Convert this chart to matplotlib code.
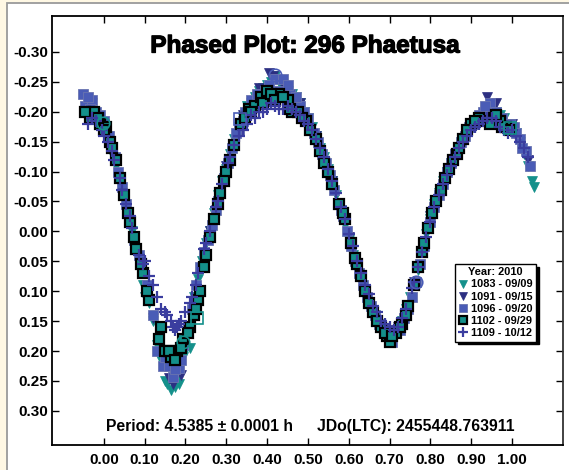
import matplotlib
matplotlib.use("Agg")
import matplotlib.pyplot as plt
import matplotlib.patheffects as pe
from matplotlib.patches import Rectangle

plt.rcParams['font.family'] = ['Liberation Sans', 'DejaVu Sans']
plt.rcParams['font.weight'] = 'bold'

# ---------------- data ----------------
title = "Phased Plot: 296 Phaetusa"
legend_title = "Year: 2010"
period_text = "Period: 4.5385 \u00b1 0.0001 h"
epoch_text = "JDo(LTC): 2455448.763911"

labels = ["1083 - 09/09", "1091 - 09/15", "1096 - 09/20", "1102 - 09/29", "1109 - 10/12"]

ph_1083 = [-0.04, -0.02, 0.01, 0.03, 0.05, 0.07, 0.085, 0.095, 0.11, 0.12, 0.14, 0.15, 0.165, 0.175,
           0.185, 0.20, 0.21, 0.23, 0.25, 0.27, 0.29, 0.31, 0.33, 0.35, 0.37, 0.39, 0.41, 0.43, 0.45,
           0.47, 0.49, 0.51, 0.53, 0.55, 0.57, 0.59, 0.61, 0.63, 0.65, 0.67, 0.69, 0.71, 0.73, 0.75,
           0.77, 0.79, 0.81, 0.83, 0.85, 0.87, 0.89, 0.91, 0.93, 0.95, 0.97, 0.99, 1.01, 1.03, 1.05, 1.055,
           -0.03, 0.00, 0.02, 0.04, 0.06, 0.10, 0.13, 0.155, 0.18, 0.195, 0.22, 0.24, 0.26, 0.28, 0.30,
           0.32, 0.34, 0.36, 0.38, 0.40, 0.42, 0.44, 0.46, 0.48, 0.50, 0.52, 0.54, 0.56, 0.58, 0.60,
           0.62, 0.64, 0.66, 0.68, 0.70, 0.72, 0.74, 0.76, 0.78, 0.80, 0.82, 0.84, 0.86, 0.88, 0.90,
           0.92, 0.94, 0.96, 0.98, 1.00, 1.02, 1.04]
mag_1083 = [-0.205, -0.195, -0.16, -0.11, -0.055, 0.0, 0.045, 0.09, 0.12, 0.15, 0.215, 0.25, 0.265, 0.26,
            0.255, 0.20, 0.195, 0.08, 0.02, -0.03, -0.085, -0.13, -0.175, -0.21, -0.225, -0.24, -0.25, -0.25, -0.235,
            -0.225, -0.20, -0.175, -0.14, -0.105, -0.06, -0.01, 0.04, 0.085, 0.12, 0.15, 0.17, 0.175, 0.15, 0.11,
            0.065, 0.005, -0.045, -0.085, -0.115, -0.14, -0.165, -0.18, -0.195, -0.205, -0.195, -0.18, -0.165, -0.13, -0.085, -0.075,
            -0.20, -0.175, -0.13, -0.085, -0.03, 0.11, 0.19, 0.255, 0.25, 0.21, 0.11, 0.05, 0.0, -0.06, -0.105,
            -0.155, -0.19, -0.215, -0.235, -0.245, -0.26, -0.24, -0.23, -0.215, -0.19, -0.16, -0.125, -0.085, -0.035, 0.015,
            0.06, 0.10, 0.135, 0.16, 0.175, 0.165, 0.13, 0.09, 0.035, -0.02, -0.065, -0.10, -0.13, -0.155, -0.175,
            -0.19, -0.20, -0.20, -0.19, -0.175, -0.15, -0.11]

ph_1091 = [-0.03, 0.00, 0.04, 0.08, 0.12, 0.16, 0.17, 0.19, 0.22, 0.26, 0.30, 0.34, 0.38, 0.405, 0.415,
           0.44, 0.48, 0.52, 0.56, 0.60, 0.64, 0.68, 0.70, 0.72, 0.76, 0.80, 0.84, 0.88, 0.92, 0.94, 0.96,
           1.00, 1.04]
mag_1091 = [-0.215, -0.18, -0.085, 0.03, 0.145, 0.245, 0.255, 0.24, 0.12, 0.0, -0.11, -0.195, -0.24, -0.265, -0.26,
            -0.245, -0.215, -0.16, -0.085, 0.01, 0.10, 0.16, 0.165, 0.16, 0.085, -0.025, -0.10, -0.155, -0.19, -0.225, -0.215,
            -0.18, -0.12]

ph_1096 = [-0.05, -0.045, -0.03, -0.02, -0.01, 0.005, 0.02, 0.035, 0.045, 0.06, 0.075, 0.09, 0.105, 0.13,
           0.145, 0.16, 0.17, 0.185, 0.195, 0.215, 0.235, 0.245, 0.265, 0.28, 0.295, 0.315, 0.33, 0.345,
           0.36, 0.375, 0.395, 0.42, 0.44, 0.455, 0.465, 0.48, 0.50, 0.515, 0.535, 0.545, 0.565, 0.58,
           0.595, 0.615, 0.635, 0.655, 0.675, 0.69, 0.705, 0.725, 0.745, 0.765, 0.785, 0.80, 0.82, 0.84,
           0.86, 0.875, 0.895, 0.915, 0.93, 0.945, 0.96, 0.975, 0.99, 1.005, 1.02, 1.035, 1.045,
           -0.04, -0.035, 0.00, 0.012, 0.028, 0.055, 0.085, 0.12, 0.15, 0.175, 0.19, 0.205, 0.225, 0.255,
           0.275, 0.305, 0.325, 0.34, 0.355, 0.385, 0.405, 0.43, 0.45, 0.47, 0.49, 0.525, 0.555, 0.585,
           0.605, 0.625, 0.645, 0.665, 0.695, 0.715, 0.735, 0.755, 0.775, 0.81, 0.83, 0.85, 0.885, 0.905,
           0.92, 0.935, 0.95, 0.965, 0.98, 0.995, 1.01, 1.025]
mag_1096 = [-0.23, -0.21, -0.22, -0.20, -0.195, -0.17, -0.14, -0.10, -0.075, -0.03, 0.015, 0.055, 0.09, 0.20,
            0.225, 0.225, 0.243, 0.228, 0.19, 0.13, 0.06, 0.035, -0.01, -0.05, -0.09, -0.14, -0.17, -0.20,
            -0.22, -0.23, -0.235, -0.255, -0.255, -0.23, -0.21, -0.21, -0.19, -0.165, -0.13, -0.115, -0.07, -0.035,
            0.0, 0.05, 0.09, 0.125, 0.155, 0.17, 0.185, 0.165, 0.13, 0.085, 0.025, -0.015, -0.06, -0.10,
            -0.13, -0.15, -0.175, -0.185, -0.20, -0.215, -0.20, -0.19, -0.17, -0.175, -0.155, -0.135, -0.11,
            -0.225, -0.205, -0.185, -0.16, -0.125, -0.045, 0.04, 0.14, 0.21, 0.23, 0.215, 0.16, 0.09, 0.015,
            -0.035, -0.115, -0.165, -0.185, -0.205, -0.225, -0.245, -0.235, -0.245, -0.225, -0.20, -0.15, -0.095, -0.025,
            0.025, 0.07, 0.11, 0.14, 0.175, 0.17, 0.145, 0.11, 0.055, -0.04, -0.08, -0.115, -0.16, -0.18,
            -0.195, -0.21, -0.19, -0.185, -0.18, -0.18, -0.165, -0.14]

ph_1102 = [-0.035, -0.025, -0.01, 0.005, 0.015, 0.03, 0.05, 0.065, 0.08, 0.095, 0.11, 0.135, 0.15, 0.165,
           0.18, 0.195, 0.21, 0.22, 0.23, 0.235, 0.25, 0.27, 0.285, 0.30, 0.32, 0.335, 0.355, 0.37, 0.385,
           0.40, 0.43, 0.45, 0.46, 0.475, 0.495, 0.52, 0.54, 0.56, 0.575, 0.59, 0.605, 0.62, 0.64, 0.66,
           0.68, 0.695, 0.70, 0.715, 0.73, 0.745, 0.76, 0.78, 0.795, 0.815, 0.835, 0.855, 0.88, 0.90, 0.92,
           0.935, 0.955, 0.97, 0.985,
           -0.045, -0.015, 0.00, 0.02, 0.04, 0.06, 0.075, 0.09, 0.105, 0.14, 0.16, 0.175, 0.19, 0.205,
           0.225, 0.245, 0.26, 0.28, 0.295, 0.31, 0.345, 0.36, 0.39, 0.41, 0.42, 0.44, 0.455, 0.485,
           0.505, 0.53, 0.55, 0.585, 0.615, 0.63, 0.65, 0.67, 0.69, 0.705, 0.725, 0.74, 0.77, 0.785,
           0.805, 0.825, 0.845, 0.865, 0.87, 0.89, 0.91, 0.945, 0.96, 0.975, 0.995]
mag_1102 = [-0.19, -0.20, -0.18, -0.175, -0.15, -0.12, -0.06, -0.015, 0.03, 0.07, 0.115, 0.18, 0.20, 0.21,
            0.20, 0.18, 0.16, 0.14, 0.115, 0.10, 0.04, -0.02, -0.065, -0.10, -0.145, -0.18, -0.205, -0.21, -0.225,
            -0.235, -0.23, -0.22, -0.20, -0.20, -0.185, -0.155, -0.115, -0.08, -0.045, -0.02, 0.02, 0.055, 0.10, 0.135,
            0.16, 0.175, 0.185, 0.17, 0.155, 0.125, 0.09, 0.035, -0.005, -0.05, -0.09, -0.12, -0.155, -0.18, -0.19,
            -0.185, -0.19, -0.185, -0.175,
            -0.20, -0.19, -0.17, -0.14, -0.09, -0.03, 0.01, 0.055, 0.10, 0.16, 0.20, 0.215, 0.195, 0.17,
            0.13, 0.06, 0.01, -0.045, -0.085, -0.12, -0.19, -0.20, -0.215, -0.23, -0.22, -0.225, -0.205, -0.19,
            -0.17, -0.135, -0.10, -0.03, 0.045, 0.075, 0.12, 0.15, 0.17, 0.175, 0.16, 0.14, 0.06, 0.02,
            -0.03, -0.07, -0.105, -0.13, -0.14, -0.17, -0.185, -0.18, -0.195, -0.175, -0.17]

ph_1109 = [-0.04, -0.02, -0.005, 0.01, 0.025, 0.04, 0.055, 0.07, 0.085, 0.10, 0.11, 0.13, 0.14, 0.155,
           0.165, 0.175, 0.18, 0.19, 0.20, 0.215, 0.23, 0.245, 0.26, 0.275, 0.29, 0.305, 0.32, 0.34, 0.36,
           0.38, 0.40, 0.42, 0.44, 0.46, 0.48, 0.50, 0.52, 0.54, 0.56, 0.58, 0.60, 0.62, 0.64, 0.66, 0.68,
           0.70, 0.72, 0.74, 0.755, 0.77, 0.79, 0.81, 0.83, 0.85, 0.87, 0.89, 0.91, 0.93, 0.95, 0.97, 0.99,
           1.01, 1.03,
           -0.03, 0.00, 0.02, 0.045, 0.065, 0.095, 0.12, 0.15, 0.17, 0.185, 0.21, 0.225, 0.25, 0.28, 0.31,
           0.33, 0.35, 0.37, 0.39, 0.41, 0.43, 0.45, 0.47, 0.49, 0.51, 0.53, 0.55, 0.57, 0.59, 0.61, 0.63,
           0.65, 0.67, 0.69, 0.71, 0.73, 0.76, 0.78, 0.80, 0.82, 0.84, 0.86, 0.88, 0.90, 0.92, 0.94, 0.96,
           0.98, 1.00, 1.02, 1.04]
mag_1109 = [-0.18, -0.185, -0.17, -0.15, -0.12, -0.09, -0.045, -0.005, 0.04, 0.05, 0.075, 0.11, 0.13, 0.14,
            0.15, 0.165, 0.16, 0.15, 0.135, 0.11, 0.07, 0.03, 0.0, -0.04, -0.08, -0.115, -0.145, -0.17, -0.195,
            -0.20, -0.205, -0.21, -0.205, -0.205, -0.195, -0.18, -0.155, -0.125, -0.085, -0.04, 0.005, 0.05, 0.09, 0.125, 0.15,
            0.16, 0.16, 0.13, 0.095, 0.06, 0.01, -0.04, -0.08, -0.11, -0.14, -0.16, -0.175, -0.185, -0.19, -0.175, -0.165,
            -0.16, -0.14,
            -0.19, -0.16, -0.135, -0.07, -0.025, 0.055, 0.09, 0.135, 0.16, 0.155, 0.12, 0.09, 0.02, -0.05, -0.125,
            -0.16, -0.18, -0.19, -0.20, -0.215, -0.205, -0.21, -0.20, -0.185, -0.17, -0.14, -0.105, -0.065, -0.02, 0.025, 0.07,
            0.105, 0.135, 0.155, 0.165, 0.145, 0.085, 0.035, -0.015, -0.06, -0.095, -0.125, -0.15, -0.17, -0.18, -0.19, -0.185,
            -0.17, -0.17, -0.15, -0.125]

# highlighted (open) points
open_circ_ph = [-0.002, 0.194, 0.42, 0.765]
open_circ_mag = [-0.181, 0.185, -0.262, 0.085]
open_circ_col = ["teal", "teal", "blue", "blue"]
open_sq_ph = [0.333, 0.228, 0.995]
open_sq_mag = [-0.188, 0.145, -0.173]
open_sq_col = ["blue", "teal", "teal"]

xticks = [0.0, 0.1, 0.2, 0.3, 0.4, 0.5, 0.6, 0.7, 0.8, 0.9, 1.0]
yticks = [-0.30, -0.25, -0.20, -0.15, -0.10, -0.05, 0.00, 0.05, 0.10, 0.15, 0.20, 0.25, 0.30]

# ---------------- style ----------------
TEAL = '#14908b'
NAVY = '#2c2f82'
BLUE = '#4a5cb6'
PLUS = '#3a3d9f'
CREAM = '#fff8e4'
cmap = {"teal": TEAL, "blue": BLUE}

fig = plt.figure(figsize=(5.69, 4.70), dpi=100)
fig.patch.set_facecolor(CREAM)
panel = Rectangle((7 / 569, -0.05), 1.2, 1 - 3 / 470 + 0.05, transform=fig.transFigure,
                  facecolor='white', edgecolor='#9a9a9a', linewidth=1.3, zorder=-10)
fig.add_artist(panel)

ax = fig.add_axes([52 / 569, 1 - 445 / 470, (563 - 52) / 569, (445 - 16) / 470])
ax.set_zorder(1)
ax.set_facecolor('white')

ax.plot(ph_1083, mag_1083, linestyle='none', marker='v', ms=7, mfc=TEAL, mec=TEAL, mew=0.5, label=labels[0])
ax.plot(ph_1091, mag_1091, linestyle='none', marker='v', ms=7, mfc=NAVY, mec=NAVY, mew=0.5, label=labels[1])
ax.plot(ph_1096, mag_1096, linestyle='none', marker='s', ms=6.5, mfc=BLUE, mec='#6a74b0', mew=0.6, label=labels[2])
ax.plot(ph_1102, mag_1102, linestyle='none', marker='s', ms=6.5, mfc=TEAL, mec='black', mew=1.6, label=labels[3])
ax.plot(ph_1109, mag_1109, linestyle='none', marker='+', ms=8.5, mfc=PLUS, mec=PLUS, mew=1.6, label=labels[4])

for p, m, c in zip(open_circ_ph, open_circ_mag, open_circ_col):
    ax.plot([p], [m], linestyle='none', marker='o', ms=9, mfc='none', mec=cmap[c], mew=1.2)
for p, m, c in zip(open_sq_ph, open_sq_mag, open_sq_col):
    ax.plot([p], [m], linestyle='none', marker='s', ms=9, mfc='none', mec=cmap[c], mew=1.2)

ax.set_xlim(-0.127, 1.125)
ax.set_ylim(0.357, -0.36)
ax.set_xticks(xticks)
ax.set_xticklabels([f"{v:.2f}" for v in xticks])
ax.set_yticks(yticks)
ax.set_yticklabels([f"{v:.2f}" for v in yticks])
ax.tick_params(direction='in', length=5, width=1, top=True, right=True, labelsize=11, colors='black')
ax.tick_params(axis='x', pad=6)
ax.tick_params(axis='y', pad=3)
for lab in ax.get_xticklabels() + ax.get_yticklabels():
    lab.set_fontweight('bold')
for s in ax.spines.values():
    s.set_linewidth(1.3)
    s.set_color('black')
ax.spines['right'].set_color('#333333')

ax.text(0.495, 0.93, title, transform=ax.transAxes, ha='center', va='center',
        fontsize=17.5, fontweight='bold', color='black',
        path_effects=[pe.withStroke(linewidth=0.9, foreground='black')])
ax.text(0.106, 0.042, period_text, transform=ax.transAxes, ha='left', va='center',
        fontsize=11.3, fontweight='bold')
ax.text(0.518, 0.042, epoch_text, transform=ax.transAxes, ha='left', va='center',
        fontsize=11.3, fontweight='bold')

leg = ax.legend(loc='upper left', bbox_to_anchor=((455 - 52) / 511, (445 - 264) / 429),
                title=legend_title, fontsize=7.9, title_fontproperties={'weight': 'bold', 'size': 7.9},
                frameon=True, fancybox=False, shadow={'color': 'black', 'alpha': 1.0},
                edgecolor='black', framealpha=1, borderpad=0.3, labelspacing=0.2,
                handlelength=0.8, handletextpad=0.4, borderaxespad=0, markerscale=0.85)
leg.get_frame().set_linewidth(1.0)
for t in leg.get_texts():
    t.set_fontweight('bold')

fig.savefig('out.png', dpi=100, facecolor=fig.get_facecolor())
